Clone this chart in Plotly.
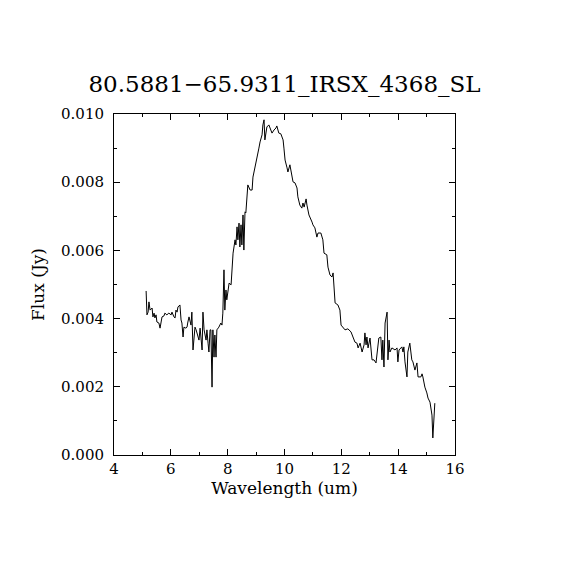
import plotly.graph_objects as go

# spectrum
wavelength = [
    5.13, 5.16, 5.20, 5.23, 5.27, 5.34, 5.37, 5.41, 5.44, 5.48, 5.51, 5.58,
    5.62, 5.65, 5.69, 5.76, 5.79, 5.86, 5.93, 6.01, 6.04, 6.11, 6.15, 6.18,
    6.22, 6.25, 6.32, 6.36, 6.39, 6.43, 6.46, 6.53, 6.57, 6.60, 6.64, 6.71,
    6.74, 6.78, 6.85, 6.89, 6.96, 6.99, 7.03, 7.10, 7.13, 7.17, 7.24, 7.27,
    7.31, 7.34, 7.38, 7.41, 7.45, 7.48, 7.52, 7.55, 7.59, 7.62, 7.69, 7.76,
    7.80, 7.83, 7.87, 7.90, 7.94, 7.97, 8.05, 8.12, 8.19, 8.26, 8.29, 8.33,
    8.36, 8.40, 8.43, 8.47, 8.50, 8.54, 8.57, 8.61, 8.64, 8.68, 8.71, 8.79,
    8.86, 8.89, 8.96, 9.03, 9.10, 9.14, 9.21, 9.24, 9.28, 9.31, 9.35, 9.38,
    9.45, 9.52, 9.56, 9.63, 9.70, 9.73, 9.80, 9.87, 9.95, 9.98, 10.02, 10.09,
    10.12, 10.19, 10.23, 10.30, 10.37, 10.44, 10.47, 10.54, 10.61, 10.65,
    10.69, 10.76, 10.79, 10.86, 10.97, 11.00, 11.07, 11.14, 11.18, 11.28,
    11.35, 11.39, 11.49, 11.53, 11.60, 11.67, 11.71, 11.74, 11.78, 11.88,
    11.95, 11.99, 12.06, 12.13, 12.23, 12.34, 12.41, 12.48, 12.55, 12.59,
    12.66, 12.73, 12.80, 12.83, 12.87, 12.90, 12.94, 13.01, 13.08, 13.15,
    13.22, 13.25, 13.32, 13.39, 13.43, 13.46, 13.50, 13.54, 13.61, 13.64,
    13.68, 13.71, 13.78, 13.89, 13.96, 13.99, 14.03, 14.13, 14.17, 14.20,
    14.24, 14.31, 14.34, 14.41, 14.48, 14.52, 14.59, 14.66, 14.70, 14.80,
    14.84, 14.87, 14.94, 15.01, 15.05, 15.12, 15.19, 15.22, 15.26, 15.29,
]
flux = [
    0.00481, 0.00411, 0.00419, 0.00449, 0.00425, 0.00431, 0.00405, 0.00416,
    0.00402, 0.00411, 0.00390, 0.00387, 0.00372, 0.00390, 0.00405, 0.00408,
    0.00416, 0.00411, 0.00416, 0.00411, 0.00419, 0.00405, 0.00402, 0.00425,
    0.00419, 0.00434, 0.00440, 0.00396, 0.00387, 0.00346, 0.00375, 0.00372,
    0.00375, 0.00390, 0.00405, 0.00381, 0.00419, 0.00308, 0.00375, 0.00367,
    0.00346, 0.00337, 0.00372, 0.00308, 0.00419, 0.00367, 0.00337, 0.00367,
    0.00328, 0.00302, 0.00367, 0.00367, 0.00199, 0.00367, 0.00287, 0.00352,
    0.00287, 0.00367, 0.00375, 0.00387, 0.00381, 0.00416, 0.00543, 0.00425,
    0.00484, 0.00455, 0.00504, 0.00499, 0.00592, 0.00631, 0.00616, 0.00669,
    0.00631, 0.00680, 0.00610, 0.00675, 0.00616, 0.00704, 0.00601, 0.00713,
    0.00710, 0.00777, 0.00792, 0.00777, 0.00777, 0.00815, 0.00842, 0.00865,
    0.00900, 0.00918, 0.00939, 0.00968, 0.00983, 0.00924, 0.00947, 0.00962,
    0.00968, 0.00953, 0.00944, 0.00953, 0.00959, 0.00965, 0.00944, 0.00942,
    0.00924, 0.00900, 0.00865, 0.00842, 0.00830, 0.00851, 0.00830, 0.00801,
    0.00798, 0.00783, 0.00757, 0.00733, 0.00724, 0.00739, 0.00727, 0.00751,
    0.00733, 0.00704, 0.00683, 0.00675, 0.00666, 0.00639, 0.00651, 0.00651,
    0.00631, 0.00592, 0.00587, 0.00551, 0.00528, 0.00522, 0.00534, 0.00484,
    0.00446, 0.00440, 0.00425, 0.00381, 0.00375, 0.00367, 0.00370, 0.00361,
    0.00346, 0.00331, 0.00328, 0.00314, 0.00328, 0.00302, 0.00323, 0.00358,
    0.00323, 0.00346, 0.00314, 0.00343, 0.00279, 0.00279, 0.00270, 0.00293,
    0.00343, 0.00346, 0.00279, 0.00337, 0.00258, 0.00387, 0.00419, 0.00279,
    0.00337, 0.00302, 0.00314, 0.00308, 0.00314, 0.00273, 0.00308, 0.00317,
    0.00302, 0.00317, 0.00273, 0.00229, 0.00302, 0.00328, 0.00279, 0.00273,
    0.00249, 0.00270, 0.00229, 0.00229, 0.00238, 0.00229, 0.00199, 0.00182,
    0.00167, 0.00155, 0.00117, 0.00050, 0.00103, 0.00152,
]

title = "80.5881\u221265.9311_IRSX_4368_SL"
font = "DejaVu Serif, Liberation Serif, serif"

fig = go.Figure()
fig.add_trace(
    go.Scatter(
        x=wavelength,
        y=flux,
        mode="lines",
        line=dict(color="black", width=1),
        showlegend=False,
    )
)

axis_common = dict(
    showline=True,
    linecolor="black",
    linewidth=1,
    mirror="allticks",
    ticks="inside",
    ticklen=6,
    tickcolor="black",
    showgrid=False,
    zeroline=False,
    tickfont=dict(family=font, size=15, color="black"),
)

fig.update_xaxes(
    range=[4, 16],
    dtick=2,
    minor=dict(dtick=1, ticks="inside", ticklen=3, tickcolor="black"),
    title=dict(text="Wavelength (um)", font=dict(family=font, size=17, color="black"), standoff=5),
    **axis_common,
)
fig.update_yaxes(
    range=[0, 0.01],
    dtick=0.002,
    tickformat=".3f",
    ticklabelstandoff=6,
    minor=dict(dtick=0.001, ticks="inside", ticklen=3, tickcolor="black"),
    title=dict(text="Flux (Jy)", font=dict(family=font, size=17, color="black"), standoff=12),
    **axis_common,
)

# the page body adds 8px, so the figure is 562 wide and high
fig.update_layout(
    width=562,
    height=562,
    margin=dict(l=106, r=115, t=106, b=115),
    paper_bgcolor="white",
    plot_bgcolor="white",
    title=dict(
        text=title,
        xref="paper",
        x=0.5,
        xanchor="center",
        y=0.865,
        yanchor="middle",
        font=dict(family=font, size=23, color="black"),
    ),
)

fig.write_html("out.html")
